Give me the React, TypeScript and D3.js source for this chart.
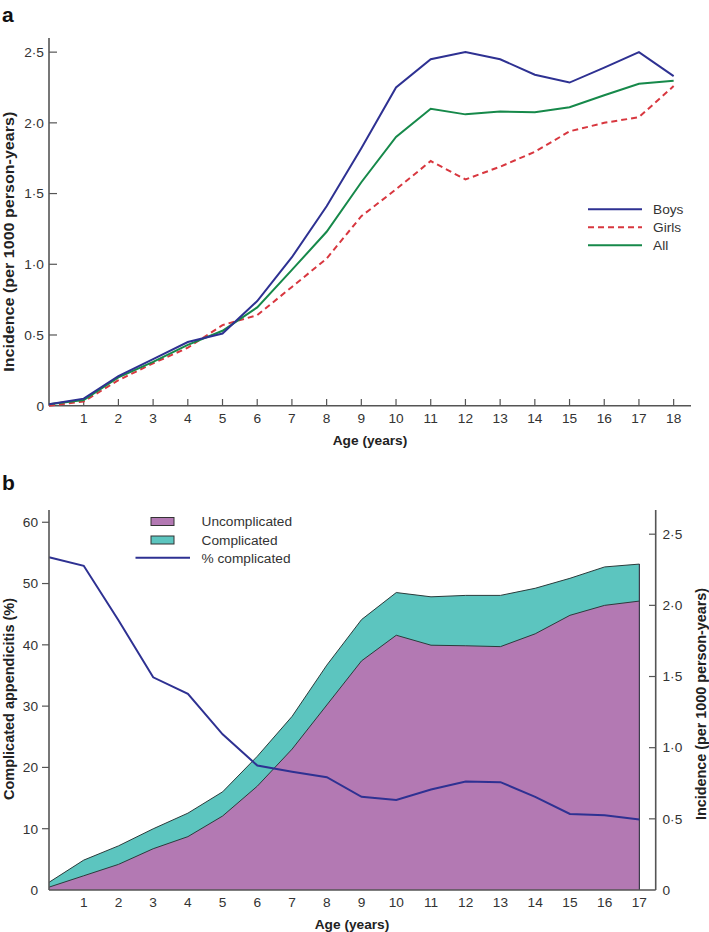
import React from "react";
import * as d3 from "d3";

const agesA = d3.range(0, 19);
const boys = [0.01, 0.05, 0.21, 0.33, 0.45, 0.51, 0.74, 1.05, 1.41, 1.82, 2.25, 2.45, 2.5, 2.45, 2.34, 2.285, 2.39, 2.5, 2.33];
const girls = [0.0, 0.03, 0.18, 0.3, 0.41, 0.57, 0.64, 0.84, 1.04, 1.34, 1.53, 1.73, 1.6, 1.69, 1.795, 1.94, 2.0, 2.04, 2.26];
const all = [0.01, 0.04, 0.2, 0.31, 0.43, 0.53, 0.695, 0.96, 1.23, 1.58, 1.9, 2.1, 2.06, 2.08, 2.075, 2.11, 2.195, 2.276, 2.297];
const yTicksA = [0, 0.5, 1, 1.5, 2, 2.5];

const agesB = d3.range(0, 18);
const uncomplicated = [0.02, 0.1, 0.18, 0.29, 0.375, 0.52, 0.73, 0.99, 1.3, 1.61, 1.79, 1.72, 1.716, 1.71, 1.8, 1.93, 2.0, 2.03];
const total = [0.054, 0.21, 0.31, 0.43, 0.54, 0.69, 0.94, 1.22, 1.58, 1.9, 2.09, 2.06, 2.07, 2.07, 2.12, 2.19, 2.27, 2.29];
const pctComplicated = [54.3, 52.9, 44.0, 34.7, 32.0, 25.4, 20.3, 19.3, 18.4, 15.2, 14.7, 16.4, 17.7, 17.6, 15.2, 12.4, 12.2, 11.5];
const yTicksBLeft = [0, 10, 20, 30, 40, 50, 60];
const yTicksBRight = [0, 0.5, 1, 1.5, 2, 2.5];

const fmtDot = (v: number) => (v === 0 ? "0" : v.toFixed(1).replace(".", "\u00B7"));

const FONT = "'Liberation Sans', Arial, Helvetica, sans-serif";
const FS = 13.7;
const AX = "#555";
const TXT = "#333";
const BLUE = "#2e3192";
const RED = "#d8373f";
const GREEN = "#16894a";
const PURPLE = "#b379b3";
const TEAL = "#5cc5bf";

export default function App() {
  // Panel A scales
  const xA = d3.scaleLinear().domain([0, 18.5]).range([49, 691]);
  const yA = d3.scaleLinear().domain([0, 2.6]).range([405.7, 38]);
  const lineA = (vals: number[]) =>
    d3.line<number>().x((_, i) => xA(agesA[i])).y((d) => yA(d))(vals) || "";

  // Panel B scales
  const xB = d3.scaleLinear().domain([0, 17.47]).range([49, 655.7]);
  const yBL = d3.scaleLinear().domain([0, 62]).range([890, 510]);
  const yBR = d3.scaleLinear().domain([0, 2.67]).range([890, 510]);

  const areaUn = d3.area<number>().x((_, i) => xB(agesB[i])).y0(yBR(0)).y1((d) => yBR(d))(uncomplicated) || "";
  const areaTot = d3.area<number>().x((_, i) => xB(agesB[i])).y0(yBR(0)).y1((d) => yBR(d))(total) || "";
  const lineUn = d3.line<number>().x((_, i) => xB(agesB[i])).y((d) => yBR(d))(uncomplicated) || "";
  const lineTot = d3.line<number>().x((_, i) => xB(agesB[i])).y((d) => yBR(d))(total) || "";
  const linePct = d3.line<number>().x((_, i) => xB(agesB[i])).y((d) => yBL(d))(pctComplicated) || "";

  const legendA = [
    { label: "Boys", color: BLUE, dash: undefined as string | undefined },
    { label: "Girls", color: RED, dash: "6,4" },
    { label: "All", color: GREEN, dash: undefined },
  ];

  return (
    <svg width={709} height={932} style={{ position: "absolute", left: 0, top: 0, fontFamily: FONT }}>
      <rect x={0} y={0} width={709} height={932} fill="#fff" />
      {/* Panel A */}
      <text x={2} y={22} fontSize={21} fontWeight="bold" fill="#111">a</text>
      <line x1={49} x2={49} y1={38} y2={405.7} stroke={AX} strokeWidth={1.6} />
      <line x1={49} x2={691} y1={405.7} y2={405.7} stroke={AX} strokeWidth={1.6} />
      {yTicksA.map((t) => (
        <g key={"ya" + t}>
          {t > 0 && <line x1={49} x2={57} y1={yA(t)} y2={yA(t)} stroke={AX} strokeWidth={1.2} />}
          <text x={44} y={yA(t) + 4.8} textAnchor="end" fontSize={FS} fill={TXT}>{fmtDot(t)}</text>
        </g>
      ))}
      {agesA.filter((a) => a > 0).map((a) => (
        <g key={"xa" + a}>
          <line x1={xA(a)} x2={xA(a)} y1={405.7} y2={399} stroke={AX} strokeWidth={1.2} />
          <text x={xA(a)} y={422.5} textAnchor="middle" fontSize={FS} fill={TXT}>{a}</text>
        </g>
      ))}
      <text x={370} y={445} textAnchor="middle" fontSize={FS} fontWeight="bold" fill="#222">Age (years)</text>
      <text transform={`translate(14,${241.7}) rotate(-90)`} textAnchor="middle" fontSize={14} fontWeight="bold" fill="#222"
        textLength={260} lengthAdjust="spacingAndGlyphs">
        Incidence (per 1000 person-years)
      </text>
      <path d={lineA(girls)} fill="none" stroke={RED} strokeWidth={2} strokeDasharray="6,4" />
      <path d={lineA(all)} fill="none" stroke={GREEN} strokeWidth={2} />
      <path d={lineA(boys)} fill="none" stroke={BLUE} strokeWidth={2} />
      {legendA.map((l, i) => (
        <g key={l.label}>
          <line x1={588} x2={642} y1={209.3 + i * 18} y2={209.3 + i * 18} stroke={l.color} strokeWidth={2} strokeDasharray={l.dash} />
          <text x={653} y={209.3 + i * 18 + 4.8} fontSize={FS} fill={TXT}>{l.label}</text>
        </g>
      ))}

      {/* Panel B */}
      <text x={2} y={490} fontSize={21} fontWeight="bold" fill="#111">b</text>
      {agesB.filter((a) => a > 0).map((a) => (
        <line key={"xbt" + a} x1={xB(a)} x2={xB(a)} y1={890} y2={883} stroke={AX} strokeWidth={1.2} />
      ))}
      <path d={areaTot} fill={TEAL} />
      <path d={areaUn} fill={PURPLE} />
      <path d={lineTot} fill="none" stroke="#2b3b3b" strokeWidth={1} />
      <path d={lineUn} fill="none" stroke="#2b3b3b" strokeWidth={1} />
      <line x1={xB(17)} x2={xB(17)} y1={yBR(total[17])} y2={890} stroke="#3a3a4a" strokeWidth={1.2} />
      <path d={linePct} fill="none" stroke={BLUE} strokeWidth={2} />
      <line x1={49} x2={49} y1={510} y2={890} stroke={AX} strokeWidth={1.6} />
      <line x1={655.7} x2={655.7} y1={510} y2={890} stroke={AX} strokeWidth={1.6} />
      <line x1={49} x2={655.7} y1={890} y2={890} stroke={AX} strokeWidth={1.6} />
      {yTicksBLeft.map((t) => (
        <g key={"ybl" + t}>
          {t > 0 && <line x1={42} x2={49} y1={yBL(t)} y2={yBL(t)} stroke={AX} strokeWidth={1.2} />}
          <text x={38} y={yBL(t) + 4.8} textAnchor="end" fontSize={FS} fill={TXT}>{t}</text>
        </g>
      ))}
      {yTicksBRight.map((t) => (
        <g key={"ybr" + t}>
          {t > 0 && <line x1={649} x2={655.7} y1={yBR(t)} y2={yBR(t)} stroke={AX} strokeWidth={1.2} />}
          <text x={662.5} y={yBR(t) + 4.8} textAnchor="start" fontSize={FS} fill={TXT}>{fmtDot(t)}</text>
        </g>
      ))}
      {agesB.filter((a) => a > 0).map((a) => (
        <text key={"xbl" + a} x={xB(a)} y={906.5} textAnchor="middle" fontSize={FS} fill={TXT}>{a}</text>
      ))}
      <text x={352} y={929} textAnchor="middle" fontSize={FS} fontWeight="bold" fill="#222">Age (years)</text>
      <text transform={`translate(14,${699}) rotate(-90)`} textAnchor="middle" fontSize={14} fontWeight="bold" fill="#222"
        textLength={202} lengthAdjust="spacingAndGlyphs">
        Complicated appendicitis (%)
      </text>
      <text transform={`translate(706,${704}) rotate(-90)`} textAnchor="middle" fontSize={14} fontWeight="bold" fill="#222"
        textLength={232} lengthAdjust="spacingAndGlyphs">
        Incidence (per 1000 person-years)
      </text>
      <rect x={151} y={517.5} width={23} height={8} fill={PURPLE} stroke="#333" strokeWidth={1} />
      <text x={201.5} y={525.5} fontSize={FS} fill={TXT}>Uncomplicated</text>
      <rect x={151} y={536} width={23} height={8} fill={TEAL} stroke="#333" strokeWidth={1} />
      <text x={201.5} y={545} fontSize={FS} fill={TXT}>Complicated</text>
      <line x1={135.5} x2={190} y1={557.7} y2={557.7} stroke={BLUE} strokeWidth={2} />
      <text x={201.5} y={563} fontSize={FS} fill={TXT}>% complicated</text>
    </svg>
  );
}
